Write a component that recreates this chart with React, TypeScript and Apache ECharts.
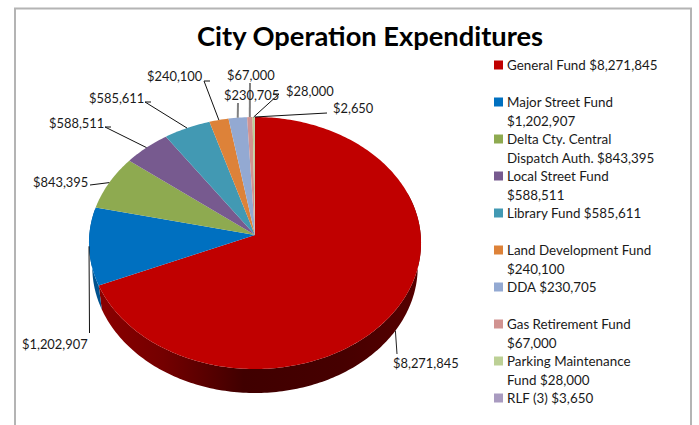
import React, { useEffect, useRef } from "react";
import * as echarts from "echarts";

const FUNDS = ["General Fund", "Major Street Fund", "Delta Cty. Central Dispatch Auth.", "Local Street Fund", "Library Fund", "Land Development Fund", "DDA", "Gas Retirement Fund", "Parking Maintenance Fund", "RLF (3)"];
const VALUES = [8271845, 1202907, 843395, 588511, 585611, 240100, 230705, 67000, 28000, 2650];
const LEGEND_LINES = [
  ["General Fund $8,271,845"],
  ["Major Street Fund", "$1,202,907"],
  ["Delta Cty. Central", "Dispatch Auth. $843,395"],
  ["Local Street Fund", "$588,511"],
  ["Library Fund $585,611"],
  ["Land Development Fund", "$240,100"],
  ["DDA $230,705"],
  ["Gas Retirement Fund", "$67,000"],
  ["Parking Maintenance", "Fund $28,000"],
  ["RLF (3) $3,650"],
];
const COLORS = ["#c00000", "#0070c0", "#8eaa50", "#775a8f", "#4299b3", "#dd8239", "#93a9d2", "#d19391", "#bcd095", "#a99bc0"];

// label layout: text box left/centre y, leader elbow, leader stroke
const LABEL_LAYOUT = [
  { x: 393, y: 363, pts: [[397, 354]], stroke: "#222", w: 1, wall: true },
  { x: 22, y: 344, pts: [[89.5, 333]], stroke: "#111", w: 1, wall: false },
  { x: 33, y: 182, pts: [[90, 185]], stroke: "#111", w: 1, wall: false },
  { x: 49, y: 123, pts: [[105, 127], [111, 127]], stroke: "#111", w: 1, wall: false },
  { x: 89, y: 98, pts: [[145, 102], [151, 102]], stroke: "#111", w: 1, wall: false },
  { x: 147, y: 76, pts: [[204, 81], [210, 81]], stroke: "#111", w: 1, wall: false },
  { x: 224, y: 95, pts: [[238, 103]], stroke: "#808080", w: 2, wall: false },
  { x: 227, y: 75, pts: [[250, 83]], stroke: "#808080", w: 2, wall: false },
  { x: 286, y: 91, pts: [[279, 94], [273, 94]], stroke: "#111", w: 1, wall: false },
  { x: 333, y: 108, pts: [[327, 113]], stroke: "#111", w: 1, wall: false },
];

const PIE = { cx: 255, cy: 235, ax: 165.7, ay: 125.5, k: 0.0635, depth: 24, rimScale: 0.98 };
const TOTAL = VALUES.reduce((a, b) => a + b, 0);

function project(deg: number, dy = 0, sx = 1): number[] {
  const t = (deg * Math.PI) / 180;
  const w = 1 + PIE.k * Math.cos(t);
  return [PIE.cx + (sx * PIE.ax * Math.sin(t)) / w, PIE.cy - (PIE.ay * Math.cos(t)) / w + dy];
}

function arc(a: number, b: number, dy = 0, sx = 1): number[][] {
  const out: number[][] = [];
  const n = Math.max(1, Math.ceil(Math.abs(b - a)));
  for (let i = 0; i <= n; i++) out.push(project(a + ((b - a) * i) / n, dy, sx));
  return out;
}

const WALL_FROM = 70;
const WALL_TO = 282;

function wallFill(i: number) {
  if (i === 0) {
    return new echarts.graphic.LinearGradient(0, 0, 1, 0, [
      { offset: 0, color: "#8a0000" },
      { offset: 0.2, color: "#740000" },
      { offset: 0.45, color: "#400000" },
      { offset: 0.75, color: "#460000" },
      { offset: 1, color: "#560000" },
    ]);
  }
  return "#00528e";
}

function makeRenderItem(i: number) {
  return (_params: unknown, api: any) => {
    const before = VALUES.slice(0, i).reduce((a, b) => a + b, 0);
    const start = (before / TOTAL) * 360;
    const end = start + (api.value(0) / TOTAL) * 360;
    const mid = (start + end) / 2;
    const children: any[] = [];
    const wa = Math.max(start, WALL_FROM);
    const wb = Math.min(end, WALL_TO);
    if (wb > wa) {
      children.push({
        type: "polygon",
        z2: 1,
        shape: { points: [...arc(wa, wb), ...arc(wb, wa, PIE.depth, PIE.rimScale)] },
        style: { fill: wallFill(i) },
      });
    }
    children.push({
      type: "polygon",
      z2: 2,
      shape: { points: [[PIE.cx, PIE.cy], ...arc(start, end)] },
      style: { fill: COLORS[i] },
    });
    const lay = LABEL_LAYOUT[i];
    const anchor = project(mid, lay.wall ? PIE.depth : 0, lay.wall ? PIE.rimScale : 1);
    children.push({
      type: "polyline",
      z2: 5,
      shape: { points: [anchor, ...lay.pts] },
      style: { fill: "none", stroke: lay.stroke, lineWidth: lay.w },
    });
    children.push({
      type: "text",
      z2: 6,
      x: lay.x,
      y: lay.y,
      style: {
        text: "$" + VALUES[i].toLocaleString("en-US"),
        fill: "#1a1a1a",
        font: '12.9px Lato, "Open Sans", sans-serif',
        textAlign: "left",
        textVerticalAlign: "middle",
      },
    });
    return { type: "group", children };
  };
}

const SERIES_NAMES = FUNDS.map((f, i) => f + " " + i);

export default function App() {
  const ref = useRef<HTMLDivElement>(null);
  useEffect(() => {
    document.body.style.margin = "0";
    const chart = echarts.init(ref.current!, undefined, { renderer: "svg" });
    chart.setOption({
      animation: false,
      backgroundColor: "#ffffff",
      title: {
        text: "City Operation Expenditures",
        left: 192,
        top: 17,
        textStyle: { fontFamily: "Lato", fontWeight: "bold", fontSize: 27.3, color: "#000" },
      },
      legend: {
        orient: "vertical",
        left: 494,
        top: 37.25,
        height: 700,
        padding: 0,
        itemGap: -18.5,
        itemWidth: 9,
        itemHeight: 9,
        icon: "rect",
        selectedMode: false,
        data: SERIES_NAMES,
        formatter: (name: string) => {
          const lines = LEGEND_LINES[SERIES_NAMES.indexOf(name)];
          return [" ", lines[0], lines[1] ?? " "].join("\n");
        },
        textStyle: { fontFamily: "Lato", fontSize: 13.4, color: "#1a1a1a", lineHeight: 18.5, padding: [0, 0, 0, -1] },
      },
      graphic: [
        {
          type: "polyline",
          shape: { points: [[15, 425], [15, 8.5], [691, 8.5], [691, 425]] },
          style: { fill: "none", stroke: "#b4b4b4", lineWidth: 2 },
        },
      ],
      series: VALUES.map((v, i) => ({
        type: "custom",
        name: SERIES_NAMES[i],
        coordinateSystem: "none",
        itemStyle: { color: COLORS[i] },
        data: [[v]],
        renderItem: makeRenderItem(i),
      })),
    });
    return () => chart.dispose();
  }, []);
  return <div ref={ref} style={{ width: 699, height: 425 }} />;
}
